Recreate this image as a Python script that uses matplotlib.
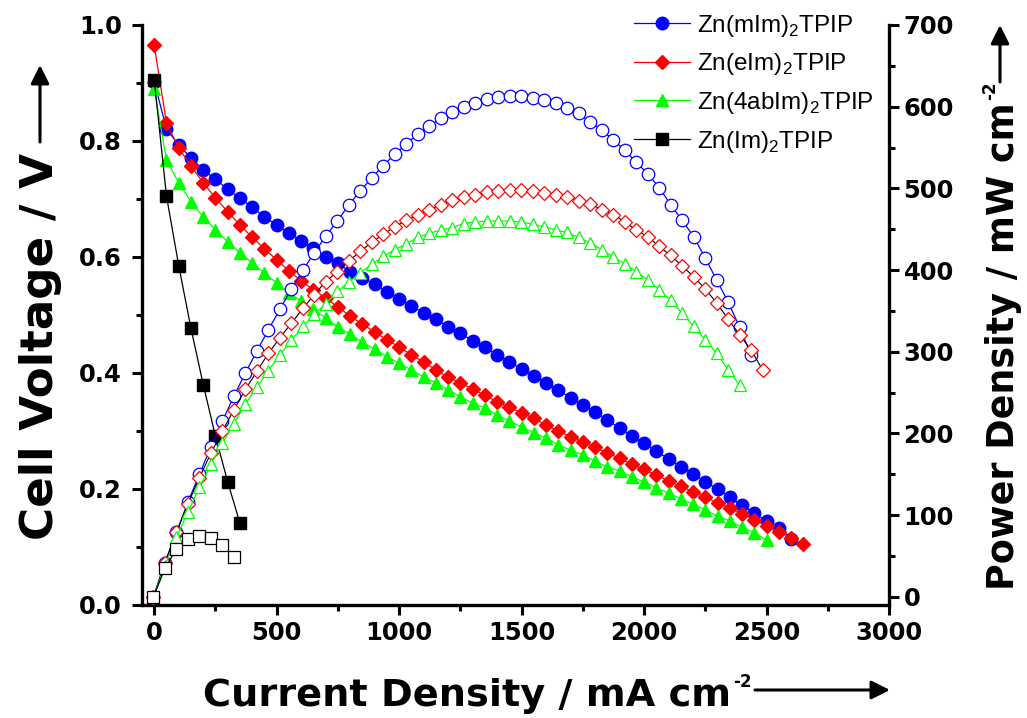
import matplotlib.pyplot as plt
from matplotlib.ticker import MultipleLocator

plt.rcParams['font.family'] = ['Liberation Sans', 'DejaVu Sans']
plt.rcParams['mathtext.fontset'] = 'custom'
plt.rcParams['mathtext.rm'] = 'Liberation Sans'
plt.rcParams['mathtext.bf'] = 'Liberation Sans:bold'

# current density set points, mA cm-2
current = [0, 50, 100, 150, 200, 250, 300, 350, 400, 450,
           500, 550, 600, 650, 700, 750, 800, 850, 900, 950,
           1000, 1050, 1100, 1150, 1200, 1250, 1300, 1350, 1400, 1450,
           1500, 1550, 1600, 1650, 1700, 1750, 1800, 1850, 1900, 1950,
           2000, 2050, 2100, 2150, 2200, 2250, 2300, 2350, 2400, 2450,
           2500, 2550, 2600, 2650]

labels = ['Zn(mIm)$_2$TPIP', 'Zn(eIm)$_2$TPIP', 'Zn(4abIm)$_2$TPIP', 'Zn(Im)$_2$TPIP']

# cell voltage, V
v_mim = [0.902, 0.821, 0.793, 0.771, 0.750, 0.734, 0.717, 0.701, 0.686, 0.669,
         0.655, 0.641, 0.627, 0.615, 0.600, 0.590, 0.574, 0.564, 0.553, 0.540,
         0.528, 0.516, 0.503, 0.493, 0.479, 0.469, 0.455, 0.445, 0.431, 0.419,
         0.407, 0.395, 0.383, 0.371, 0.357, 0.345, 0.333, 0.319, 0.305, 0.291,
         0.279, 0.265, 0.252, 0.238, 0.226, 0.212, 0.200, 0.186, 0.172, 0.158,
         0.145, 0.133, 0.114]
v_eim = [0.965, 0.831, 0.788, 0.757, 0.728, 0.702, 0.678, 0.655, 0.634, 0.614,
         0.595, 0.576, 0.559, 0.543, 0.529, 0.514, 0.498, 0.484, 0.471, 0.457,
         0.445, 0.431, 0.419, 0.405, 0.393, 0.383, 0.372, 0.362, 0.350, 0.341,
         0.331, 0.322, 0.310, 0.300, 0.290, 0.281, 0.272, 0.262, 0.253, 0.243,
         0.234, 0.224, 0.214, 0.205, 0.195, 0.186, 0.176, 0.167, 0.157, 0.147,
         0.136, 0.126, 0.116, 0.105]
v_4abim = [0.890, 0.767, 0.728, 0.695, 0.669, 0.647, 0.626, 0.607, 0.590, 0.572,
           0.555, 0.538, 0.524, 0.510, 0.495, 0.479, 0.467, 0.453, 0.441, 0.428,
           0.417, 0.405, 0.393, 0.383, 0.371, 0.359, 0.348, 0.340, 0.328, 0.317,
           0.307, 0.297, 0.288, 0.276, 0.267, 0.259, 0.248, 0.238, 0.231, 0.221,
           0.212, 0.202, 0.193, 0.183, 0.174, 0.164, 0.153, 0.145, 0.134, 0.124,
           0.112]
v_im = [0.905, 0.705, 0.585, 0.477, 0.380, 0.291, 0.212, 0.141]

# power density, mW cm-2
p_mim = [0, 42, 79, 116, 150, 184, 215, 246, 274, 301,
         327, 352, 377, 400, 421, 442, 460, 480, 497, 513,
         528, 542, 554, 567, 576, 586, 593, 600, 605, 609,
         612, 613, 613, 611, 608, 604, 599, 592, 581, 572,
         559, 547, 532, 518, 501, 480, 461, 441, 415, 388,
         361, 330, 296]
p_eim = [0, 42, 79, 114, 146, 176, 203, 229, 254, 276,
         298, 317, 335, 353, 370, 386, 398, 411, 423, 434,
         444, 453, 461, 467, 474, 480, 486, 490, 492, 495,
         497, 498, 498, 497, 494, 492, 490, 485, 481, 474,
         468, 459, 449, 441, 429, 418, 405, 392, 377, 360,
         340, 321, 302, 278]
p_4abim = [0, 38, 73, 104, 134, 162, 188, 212, 236, 257,
           277, 296, 314, 331, 346, 359, 374, 385, 397, 407,
           417, 425, 432, 440, 445, 449, 452, 457, 459, 460,
           460, 460, 459, 456, 453, 449, 446, 440, 433, 425,
           416, 408, 398, 388, 376, 363, 347, 331, 315, 298,
           278, 259]
p_im = [0, 35, 59, 71, 75, 72, 64, 49]

BLUE, RED, GREEN = '#0000FF', '#FF0000', '#00FF00'
W, H = 1027, 718
HEAVY = 'DejaVu Sans'


def fx(px):
    return px / W


def fy(py):
    return 1 - py / H


fig = plt.figure(figsize=(W / 100, H / 100), dpi=100)
rect = [fx(142), fy(605), (889 - 142) / W, (605 - 25) / H]
ax = fig.add_axes(rect)
# power layer: own x range, drawn on top
ax2 = fig.add_axes(rect)
ax2.patch.set_visible(False)

# polarization curves (filled markers)
ax.plot(current[:len(v_mim)], v_mim, '-o', color=BLUE, lw=0.9, ms=9, mec=BLUE, label=labels[0])
ax.plot(current[:len(v_eim)], v_eim, '-D', color=RED, lw=0.9, ms=7, mec=RED, label=labels[1])
ax.plot(current[:len(v_4abim)], v_4abim, '-^', color=GREEN, lw=0.9, ms=9, mec=GREEN, label=labels[2])
ax.plot(current[:len(v_im)], v_im, '-s', color='k', lw=0.9, ms=8, label=labels[3])

# power curves (open markers)
ax2.plot(current[:len(p_mim)], p_mim, '-o', color=BLUE, lw=0.9, ms=9, mfc='white', mec=BLUE, mew=0.9)
ax2.plot(current[:len(p_eim)], p_eim, '-D', color='k', lw=0.8, ms=7, mfc='white', mec=RED, mew=0.9)
ax2.plot(current[:len(p_4abim)], p_4abim, '-^', color=GREEN, lw=0.9, ms=9, mfc='white', mec=GREEN, mew=0.9)
ax2.plot(current[:len(p_im)], p_im, '-s', color='k', lw=0.9, ms=8.5, mfc='white', mec='k', mew=0.9)

ax.set_xlim(-50, 3000)
ax.set_ylim(0, 1.0)
ax2.set_xlim(-50, 3200)
ax2.set_ylim(-10, 700)

for s in ['top', 'right']:
    ax.spines[s].set_visible(False)
for s in ['left', 'bottom']:
    ax.spines[s].set_linewidth(2.4)
for s in ['top', 'left', 'bottom']:
    ax2.spines[s].set_visible(False)
ax2.spines['right'].set_linewidth(2.4)

ax.xaxis.set_major_locator(MultipleLocator(500))
ax.xaxis.set_minor_locator(MultipleLocator(250))
ax.yaxis.set_major_locator(MultipleLocator(0.2))
ax.yaxis.set_minor_locator(MultipleLocator(0.1))
ax.tick_params(which='both', direction='out', width=2.2, top=False, right=False)
ax.tick_params(which='major', length=7.5, pad=4)
ax.tick_params(axis='y', which='major', pad=7)
ax.tick_params(which='minor', length=4.5)
ax.yaxis.set_major_formatter(plt.FormatStrFormatter('%.1f'))

ax2.xaxis.set_visible(False)
ax2.yaxis.tick_right()
ax2.yaxis.set_major_locator(MultipleLocator(100))
ax2.yaxis.set_minor_locator(MultipleLocator(50))
ax2.tick_params(which='both', direction='out', width=2.2)
ax2.tick_params(which='major', length=7.5, pad=3)
ax2.tick_params(which='minor', length=4.5)

for t in ax.get_xticklabels() + ax.get_yticklabels() + ax2.get_yticklabels():
    t.set_fontfamily(HEAVY)
    t.set_fontweight('bold')
    t.set_fontsize(17.5)

h, l = ax.get_legend_handles_labels()
ax2.legend(h, l, loc='upper right', bbox_to_anchor=(fx(884), fy(3)),
           bbox_transform=fig.transFigure, frameon=False, fontsize=17.5,
           handlelength=2.3, handletextpad=0.3, labelspacing=0.52, borderaxespad=0)

# axis titles with superscripts and arrows
renderer = fig.canvas.get_renderer()
bold = dict(fontweight='bold', color='k', family=HEAVY)

xl = fig.text(fx(203), fy(706), 'Current Density / mA cm', fontsize=27.5,
              ha='left', va='baseline', **bold)
bb = xl.get_window_extent(renderer)
fig.text((bb.x1 + 2) / W, fy(706 - 19), '-2', fontsize=12, ha='left', va='baseline', **bold)

fig.text(fx(41), fy(347), 'Cell Voltage / V', fontsize=32.5, rotation=90,
         ha='center', va='center', **bold)

yl = fig.text(fx(1014), fy(590), 'Power Density / mW cm', fontsize=26.3, rotation=90,
              rotation_mode='anchor', ha='left', va='baseline', **bold)
bb = yl.get_window_extent(renderer)
fig.text(fx(1014 - 19), (bb.y1 + 2) / H, '-2', fontsize=12, rotation=90,
         rotation_mode='anchor', ha='left', va='baseline', **bold)

arrow = dict(arrowstyle='-|>', lw=2.2, color='k', mutation_scale=28, shrinkA=0, shrinkB=0)
ax.annotate('', xy=(fx(890), fy(690)), xytext=(fx(755), fy(690)),
            xycoords='figure fraction', textcoords='figure fraction', arrowprops=arrow)
ax.annotate('', xy=(fx(40), fy(65)), xytext=(fx(40), fy(142)),
            xycoords='figure fraction', textcoords='figure fraction', arrowprops=arrow)
ax.annotate('', xy=(fx(1000), fy(25)), xytext=(fx(1000), fy(82)),
            xycoords='figure fraction', textcoords='figure fraction', arrowprops=arrow)

fig.savefig('out.png', dpi=100)
